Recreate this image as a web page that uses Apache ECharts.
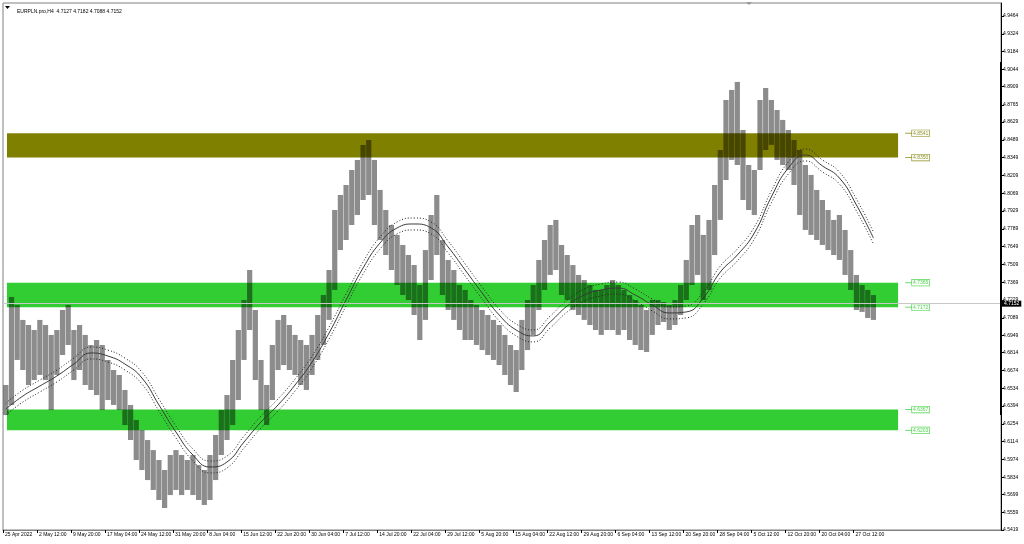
<!DOCTYPE html>
<html><head><meta charset="utf-8">
<script src="https://cdn.jsdelivr.net/npm/echarts@6/dist/echarts.min.js"></script>
<style>html,body{margin:0;padding:0;background:#fff}#c{width:1024px;height:544px}</style>
</head><body><div id="c"></div>
<script>
const titleText = 'EURPLN.pro,H4  4.7127 4.7182 4.7088 4.7152';
const dateLabels = ['25 Apr 2022','2 May 12:00','9 May 20:00','17 May 04:00','24 May 12:00','31 May 20:00','8 Jun 04:00','15 Jun 12:00','22 Jun 20:00','30 Jun 04:00','7 Jul 12:00','14 Jul 20:00','22 Jul 04:00','29 Jul 12:00','5 Aug 20:00','15 Aug 04:00','22 Aug 12:00','29 Aug 20:00','6 Sep 04:00','13 Sep 12:00','20 Sep 20:00','28 Sep 04:00','5 Oct 12:00','12 Oct 20:00','20 Oct 04:00','27 Oct 12:00'];
const priceTicks = [4.5419,4.5559,4.5699,4.5834,4.5974,4.6114,4.6254,4.6394,4.6534,4.6674,4.6814,4.6949,4.7089,4.7229,4.7369,4.7509,4.7649,4.7789,4.7929,4.8069,4.8209,4.8349,4.8489,4.8629,4.8765,4.8909,4.9044,4.9184,4.9324,4.9464];
const barHigh = [4.6560,4.7253,4.7190,4.7072,4.7032,4.6993,4.7072,4.7032,4.6954,4.6993,
4.7150,4.7190,4.6993,4.7032,4.6954,4.6875,4.6914,4.6875,4.6757,4.6678,
4.6639,4.6521,4.6403,4.6285,4.6206,4.6127,4.6048,4.5970,4.5891,4.6009,
4.6048,4.6009,4.5970,4.6009,4.5930,4.5891,4.6009,4.6167,4.6363,4.6481,
4.6757,4.6993,4.7229,4.7465,4.7150,4.6757,4.6560,4.6875,4.7072,4.7111,
4.7032,4.6954,4.6914,4.6875,4.6954,4.7111,4.7268,4.7465,4.7937,4.8055,
4.8134,4.8252,4.8331,4.8449,4.8488,4.8331,4.8095,4.7937,4.7819,4.7741,
4.7662,4.7583,4.7504,4.7347,4.7622,4.7898,4.8055,4.7701,4.7544,4.7465,
4.7347,4.7308,4.7229,4.7190,4.7150,4.7111,4.7072,4.7032,4.6954,4.6875,
4.6835,4.7072,4.7229,4.7347,4.7544,4.7701,4.7819,4.7859,4.7662,4.7583,
4.7504,4.7426,4.7386,4.7347,4.7308,4.7308,4.7347,4.7386,4.7347,4.7308,
4.7268,4.7229,4.7190,4.7150,4.7229,4.7229,4.7213,4.7190,4.7229,4.7347,
4.7544,4.7819,4.7898,4.7741,4.7859,4.8134,4.8409,4.8803,4.8882,4.8945,
4.8567,4.8291,4.8252,4.8803,4.8897,4.8803,4.8724,4.8646,4.8567,4.8488,
4.8409,4.8291,4.8213,4.8095,4.8016,4.7937,4.7859,4.7898,4.7780,4.7622,
4.7426,4.7347,4.7308,4.7268];
const barLow = [4.6324,4.6403,4.6757,4.6678,4.6560,4.6599,4.6639,4.6599,4.6363,4.6639,
4.6796,4.6875,4.6599,4.6678,4.6560,4.6521,4.6481,4.6363,4.6442,4.6403,
4.6363,4.6245,4.6127,4.5970,4.5891,4.5812,4.5734,4.5655,4.5592,4.5694,
4.5734,4.5694,4.5734,4.5694,4.5655,4.5616,4.5655,4.5812,4.6009,4.6127,
4.6245,4.6442,4.6757,4.6993,4.6599,4.6363,4.6245,4.6442,4.6678,4.6717,
4.6678,4.6639,4.6560,4.6521,4.6639,4.6757,4.6875,4.7072,4.7308,4.7622,
4.7701,4.7819,4.7898,4.8016,4.8055,4.7819,4.7701,4.7583,4.7465,4.7347,
4.7268,4.7229,4.7111,4.6914,4.7072,4.7386,4.7583,4.7268,4.7150,4.7072,
4.6993,4.6914,4.6914,4.6875,4.6835,4.6796,4.6757,4.6717,4.6639,4.6560,
4.6505,4.6678,4.6835,4.6954,4.7150,4.7308,4.7426,4.7465,4.7268,4.7229,
4.7150,4.7111,4.7072,4.7032,4.6993,4.6954,4.6993,4.6993,4.6954,4.6993,
4.6914,4.6875,4.6835,4.6820,4.6954,4.7032,4.7056,4.6993,4.7032,4.7111,
4.7229,4.7347,4.7426,4.7229,4.7308,4.7583,4.7859,4.8173,4.8331,4.8291,
4.8016,4.7937,4.7898,4.8252,4.8409,4.8449,4.8331,4.8291,4.8252,4.8134,
4.7898,4.7780,4.7741,4.7701,4.7662,4.7622,4.7583,4.7544,4.7426,4.7308,
4.7150,4.7135,4.7087,4.7072];
const maIndex = [0,3,6,9,12,15,18,21,24,27,30,33,36,39,42,45,48,51,54,57,60,63,66,69,72,75,78,81,84,87,90,93,96,99,102,105,108,111,114,117,120,123,126,129,132,135,138,141,144,147,150,153];
const maValue = [4.6371,4.6473,4.6552,4.6631,4.6725,4.6812,4.6788,4.6725,4.6615,4.6403,4.6190,4.6009,4.5915,4.5954,4.6111,4.6269,4.6403,4.6560,4.6741,4.6969,4.7229,4.7481,4.7678,4.7796,4.7827,4.7796,4.7646,4.7465,4.7284,4.7111,4.6993,4.6946,4.7056,4.7182,4.7268,4.7308,4.7323,4.7268,4.7190,4.7127,4.7135,4.7245,4.7449,4.7583,4.7756,4.8040,4.8268,4.8370,4.8284,4.8189,4.7977,4.7717];
const envUpper = [4.6418,4.6520,4.6599,4.6678,4.6772,4.6859,4.6835,4.6772,4.6662,4.6450,4.6237,4.6056,4.5962,4.6001,4.6158,4.6316,4.6450,4.6607,4.6788,4.7016,4.7276,4.7528,4.7725,4.7843,4.7874,4.7843,4.7693,4.7512,4.7331,4.7158,4.7040,4.6993,4.7103,4.7229,4.7315,4.7355,4.7370,4.7315,4.7237,4.7174,4.7182,4.7292,4.7496,4.7630,4.7803,4.8087,4.8315,4.8417,4.8331,4.8236,4.8024,4.7764];
const envLower = [4.6324,4.6426,4.6505,4.6584,4.6678,4.6765,4.6741,4.6678,4.6568,4.6356,4.6143,4.5962,4.5868,4.5907,4.6064,4.6222,4.6356,4.6513,4.6694,4.6922,4.7182,4.7434,4.7631,4.7749,4.7780,4.7749,4.7599,4.7418,4.7237,4.7064,4.6946,4.6899,4.7009,4.7135,4.7221,4.7261,4.7276,4.7221,4.7143,4.7080,4.7088,4.7198,4.7402,4.7536,4.7709,4.7993,4.8221,4.8323,4.8237,4.8142,4.7930,4.7670];
const zoneTop = [4.8541, 4.7365, 4.6367];
const zoneBottom = [4.8350, 4.7172, 4.6203];
const zoneColors = ['#808000', '#32cd32', '#32cd32'];
const lastPrice = 4.7152;

// layout constants (in bar-slot units of the x axis)
const SLOTS = 176, LABEL_EVERY = 6;
const ZONE_X0 = 0.7, ZONE_X1 = 157.85, TAG_X0 = 159.1, TAG_X1 = 160.3;
const FF = '"Liberation Sans", Arial, sans-serif';
const FONT = '5px ' + FF;

const dateTickValues = dateLabels.map((d, k) => k * LABEL_EVERY);

const chart = echarts.init(document.getElementById('c'), null, {renderer: 'canvas'});
const xy = (idx, vals) => idx.map((i, k) => [i + 0.5, vals[k]]);

chart.setOption({
  animation: false,
  backgroundColor: '#ffffff',
  grid: {left: 3, right: 23, top: 3, bottom: 14, show: true, borderColor: '#808080', borderWidth: 1},
  xAxis: {
    type: 'value', min: 0, max: SLOTS,
    axisLine: {show: true, lineStyle: {color: '#808080', width: 1}},
    axisTick: {show: true, length: 3, customValues: dateTickValues, lineStyle: {color: '#000'}},
    splitLine: {show: false},
    axisLabel: {
      show: true, align: 'left', margin: 2, fontSize: 5, color: '#000',
      fontFamily: FF, padding: [0, 0, 0, 2], hideOverlap: false,
      customValues: dateTickValues,
      formatter: v => dateLabels[Math.round(v / LABEL_EVERY)] || ''
    }
  },
  yAxis: {
    type: 'value', position: 'right', min: 4.5419, max: 4.9566, scale: true,
    axisLine: {show: true, onZero: false, lineStyle: {color: '#000', width: 1}},
    axisTick: {show: true, length: 3, customValues: priceTicks, lineStyle: {color: '#000'}},
    splitLine: {show: false},
    axisLabel: {
      show: true, margin: 2, fontSize: 5, color: '#000', fontFamily: FF,
      customValues: priceTicks, formatter: v => v.toFixed(4)
    }
  },
  title: {
    text: titleText, left: 12, top: 4,
    textStyle: {fontSize: 5, fontWeight: 'normal', color: '#000', fontFamily: FF}
  },
  graphic: [
    {type: 'polygon', shape: {points: [[5, 6], [10, 6], [7.5, 9]]}, style: {fill: '#000'}},
    {type: 'polygon', shape: {points: [[746, 2], [752, 2], [749, 5]]}, style: {fill: '#999'}},
    {type: 'rect', shape: {x: 1000, y: 62, width: 2, height: 353}, style: {fill: '#000'}, z: 100}
  ],
  series: [
    {
      type: 'custom', z: 1, silent: true, clip: false,
      data: zoneTop.map((t, k) => [k, t]),
      encode: {x: 0, y: 1},
      renderItem: (params, api) => {
        const k = params.dataIndex;
        const a = api.coord([ZONE_X0, zoneTop[k]]);
        const b = api.coord([ZONE_X1, zoneBottom[k]]);
        const col = zoneColors[k];
        const children = [{type: 'rect', shape: {x: a[0], y: a[1], width: b[0] - a[0], height: b[1] - a[1]}, style: {fill: col}}];
        [zoneTop[k], zoneBottom[k]].forEach(v => {
          const p = api.coord([TAG_X0, v]);
          const q = api.coord([TAG_X1, v]);
          children.push({type: 'line', shape: {x1: p[0], y1: p[1], x2: q[0], y2: q[1]}, style: {stroke: col, lineWidth: 1, opacity: 0.7}});
          children.push({type: 'text', x: q[0], y: q[1], style: {
            text: v.toFixed(4), fill: col, font: FONT, align: 'left', verticalAlign: 'middle',
            backgroundColor: 'rgba(255,255,255,1)', borderColor: col, borderWidth: 0.6, padding: [1, 1, 0, 1], opacity: 0.85}});
        });
        return {type: 'group', children};
      }
    },
    {
      type: 'custom', z: 2, silent: true,
      data: barHigh.map((h, i) => [i + 0.5, barLow[i], h]),
      encode: {x: 0, y: [1, 2]},
      renderItem: (params, api) => {
        const x = api.value(0);
        const lo = api.coord([x, api.value(1)]);
        const hi = api.coord([x, api.value(2)]);
        const w = api.size([1, 0])[0] * 0.92;
        return {type: 'rect', shape: {x: lo[0] - w / 2, y: hi[1], width: w, height: lo[1] - hi[1]}, style: {fill: 'rgba(0,0,0,0.45)'}};
      }
    },
    {
      type: 'line', z: 3, data: xy(maIndex, maValue), smooth: true, showSymbol: false, silent: true,
      lineStyle: {color: '#3a3a3a', width: 1},
      markLine: {
        symbol: 'none', silent: true, animation: false,
        data: [{yAxis: lastPrice}],
        lineStyle: {color: '#c8c8c8', type: 'solid', width: 1},
        label: {position: 'end', formatter: lastPrice.toFixed(4), color: '#fff', backgroundColor: '#000',
          fontSize: 5, padding: [1, 2, 0, 2], distance: 1, fontFamily: FF}
      }
    },
    {type: 'line', z: 3, data: xy(maIndex, envUpper), smooth: true, showSymbol: false, silent: true,
      lineStyle: {color: '#222', width: 1, type: [1, 2]}},
    {type: 'line', z: 3, data: xy(maIndex, envLower), smooth: true, showSymbol: false, silent: true,
      lineStyle: {color: '#222', width: 1, type: [1, 2]}}
  ]
});
</script>
</body></html>
